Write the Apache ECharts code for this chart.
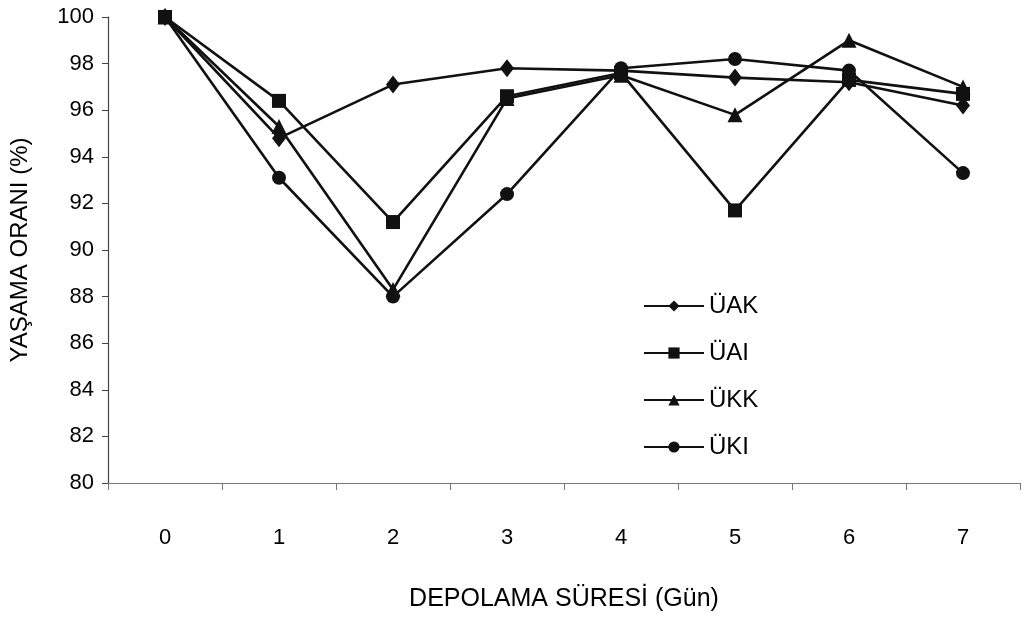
<!DOCTYPE html>
<html>
<head>
<meta charset="utf-8">
<script src="https://cdn.jsdelivr.net/npm/echarts@6/dist/echarts.min.js"></script>
<style>html,body{margin:0;padding:0;background:#fff}#c{width:1033px;height:628px}</style>
</head>
<body>
<div id="c"></div>
<script>
const days = ['0', '1', '2', '3', '4', '5', '6', '7'];
const yTicks = [80, 82, 84, 86, 88, 90, 92, 94, 96, 98, 100];
const UAK = [100, 94.8, 97.1, 97.8, 97.7, 97.4, 97.2, 96.2];
const UAI = [100, 96.4, 91.2, 96.6, 97.6, 91.7, 97.3, 96.7];
const UKK = [100, 95.3, 88.3, 96.5, 97.5, 95.8, 99.0, 97.0];
const UKI = [100, 93.1, 88.0, 92.4, 97.8, 98.2, 97.7, 93.3];
const seriesNames = ['ÜAK', 'ÜAI', 'ÜKK', 'ÜKI'];

const font = 'Liberation Sans, Arial, sans-serif';
const chart = echarts.init(document.getElementById('c'), null, {renderer: 'canvas'});

function mk(name, data, symbol, size) {
  return {
    name: name, type: 'line', data: data,
    symbol: symbol, symbolSize: size,
    lineStyle: {color: '#111', width: 2.6},
    itemStyle: {color: '#111'},
    emphasis: {disabled: true},
    z: 3
  };
}

chart.setOption({
  animation: false,
  backgroundColor: '#fff',
  grid: {left: 105, right: 13, top: 17, bottom: 145, containLabel: false},
  legend: {
    orient: 'vertical', left: 638, top: 289,
    itemWidth: 60, itemHeight: 14, itemGap: 23,
    data: seriesNames,
    textStyle: {fontFamily: font, fontSize: 24, color: '#000'}
  },
  xAxis: {
    type: 'category', data: days, boundaryGap: true,
    name: 'DEPOLAMA SÜRESİ (Gün)', nameLocation: 'middle', nameGap: 104,
    nameTextStyle: {fontFamily: font, fontSize: 25, color: '#000'},
    axisLine: {lineStyle: {color: '#777', width: 1.2}},
    axisTick: {show: true, alignWithLabel: false, length: 7, lineStyle: {color: '#777'}},
    axisLabel: {fontFamily: font, fontSize: 22, color: '#000', margin: 44},
    splitLine: {show: false}
  },
  yAxis: {
    type: 'value', min: yTicks[0], max: yTicks[yTicks.length - 1], interval: 2,
    name: 'YAŞAMA ORANI (%)', nameLocation: 'middle', nameGap: 76, nameRotate: 90,
    nameTextStyle: {fontFamily: font, fontSize: 24, color: '#000'},
    axisLine: {show: true, lineStyle: {color: '#444', width: 1.2}},
    axisTick: {show: true, inside: false, length: 6, lineStyle: {color: '#444'}},
    axisLabel: {fontFamily: font, fontSize: 22, color: '#000', margin: 14},
    splitLine: {show: false}
  },
  series: [
    mk(seriesNames[0], UAK, 'diamond', [14, 18]),
    mk(seriesNames[1], UAI, 'rect', 14),
    mk(seriesNames[2], UKK, 'triangle', 15),
    mk(seriesNames[3], UKI, 'circle', 14)
  ]
});
</script>
</body>
</html>
